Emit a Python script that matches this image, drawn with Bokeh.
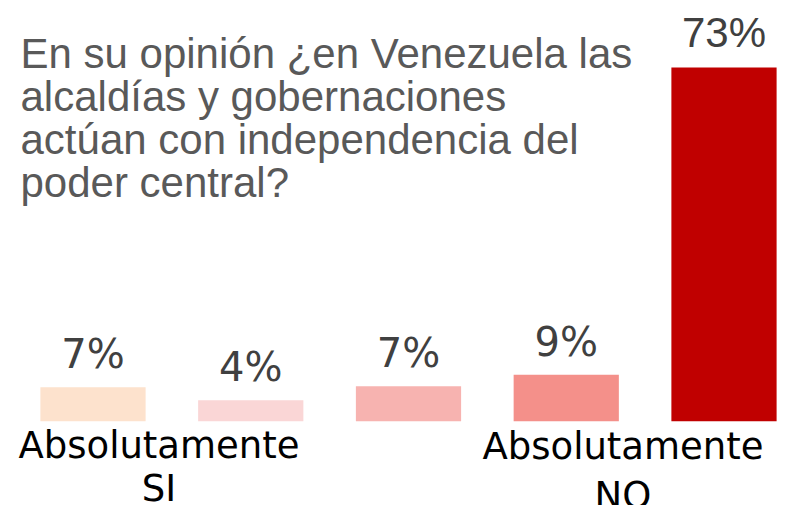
from bokeh.plotting import figure
from bokeh.models import ColumnDataSource, Label, Range1d
from bokeh.core.properties import value
from bokeh.embed import file_html
from bokeh.resources import INLINE

categories = ["Absolutamente SI", "2", "3", "4", "Absolutamente NO"]
values = [7.0, 4.3, 7.2, 9.6, 73.0]
value_labels = ["7%", "4%", "7%", "9%", "73%"]
colors = ["#FDE2CD", "#FAD6D6", "#F7B3B0", "#F4908A", "#C00000"]
title_lines = [
    "En su opinión ¿en Venezuela las",
    "alcaldías y gobernaciones",
    "actúan con independencia del",
    "poder central?",
]
end_labels = [("Absolutamente", "SI"), ("Absolutamente", "NO")]

W, H = 785, 505
p = figure(width=W, height=H, output_backend="svg", toolbar_location=None,
           x_range=Range1d(-0.5864, 4.3899), y_range=Range1d(-17.40, 86.83),
           min_border=0)
p.axis.visible = False
p.grid.visible = False
p.outline_line_color = None
p.background_fill_color = "white"
p.border_fill_color = "white"

xs = list(range(len(values)))
src = ColumnDataSource(dict(x=xs, top=values, color=colors, label=value_labels))
p.vbar(x="x", top="top", bottom=0, width=0.667, fill_color="color",
       line_color=None, source=src)

small = ColumnDataSource(dict(x=xs[:4], y=values[:4], label=value_labels[:4]))
big = ColumnDataSource(dict(x=xs[4:], y=values[4:], label=value_labels[4:]))
p.text(x="x", y="y", text="label", source=small, text_align="center",
       text_baseline="middle", y_offset=-33,
       text_font=value("DejaVu Sans"), text_font_size="40px", text_color="#404040")
p.text(x="x", y="y", text="label", source=big, text_align="center",
       text_baseline="middle", y_offset=-35,
       text_font=value("Liberation Sans"), text_font_size="42px", text_color="#404040")

# title text box
for i, line in enumerate(title_lines):
    p.add_layout(Label(x=20, y=452.5 - i * 43.3, x_units="screen", y_units="screen",
                       text=line, text_font="Liberation Sans", text_font_size="42px",
                       text_color="#595959", text_baseline="middle"))

# end-point text boxes
for (l1, l2), cx, y1, y2 in zip(end_labels, [158.5, 622.5], [60.5, 59.5], [17.5, 10.5]):
    p.add_layout(Label(x=cx, y=y1, x_units="screen", y_units="screen", text=l1,
                       text_align="center", text_baseline="middle",
                       text_font="DejaVu Sans", text_font_size="37px", text_color="#000000"))
    p.add_layout(Label(x=cx, y=y2, x_units="screen", y_units="screen", text=l2,
                       text_align="center", text_baseline="middle",
                       text_font="DejaVu Sans", text_font_size="37px", text_color="#000000"))

open("out.html", "w").write(file_html(p, INLINE))
